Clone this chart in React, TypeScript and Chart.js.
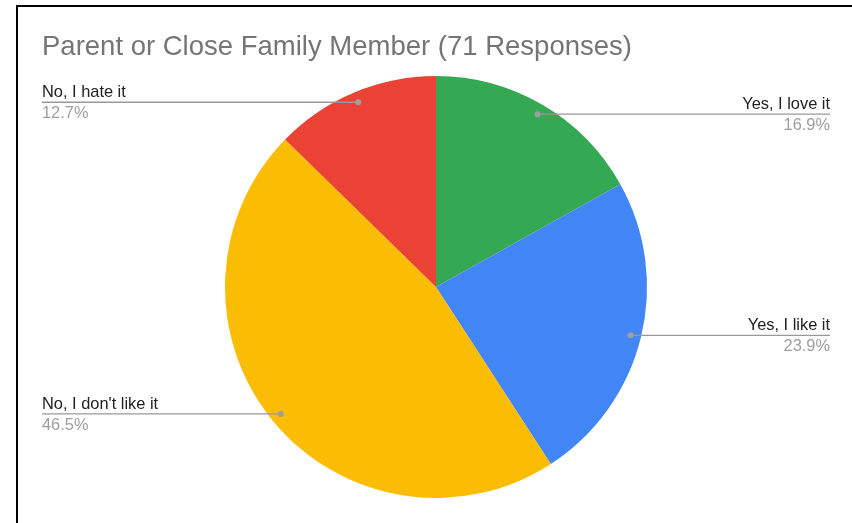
import React, { useEffect, useRef } from "react";
import { Chart, registerables } from "chart.js";

Chart.register(...registerables);

const TITLE = "Parent or Close Family Member (71 Responses)";
const categories = ["Yes, I love it", "Yes, I like it", "No, I don't like it", "No, I hate it"];
const counts = [12, 17, 33, 9];
const colors = ["#34A853", "#4285F4", "#FBBC04", "#EA4335"];

const labelPlugin = {
  id: "sideLabels",
  afterDraw(chart: any) {
    const ctx = chart.ctx as CanvasRenderingContext2D;
    const meta = chart.getDatasetMeta(0);
    const data = chart.data.datasets[0].data as number[];
    const total = data.reduce((a, b) => a + b, 0);
    ctx.save();
    // title
    ctx.font = "27.5px 'Liberation Sans', Arial, sans-serif";
    ctx.fillStyle = "#757575";
    ctx.textAlign = "left";
    ctx.textBaseline = "alphabetic";
    ctx.fillText(TITLE, 42, 55);

    const leftX = 42;
    const rightX = 830;
    meta.data.forEach((arc: any, i: number) => {
      const p = arc.getProps(["x", "y", "startAngle", "endAngle", "outerRadius"], true);
      const mid = (p.startAngle + p.endAngle) / 2;
      const r = p.outerRadius * 0.95;
      const dx = p.x + Math.cos(mid) * r;
      const dy = p.y + Math.sin(mid) * r;
      const right = Math.cos(mid) > 0;
      const edge = right ? rightX : leftX;
      ctx.strokeStyle = "#999999";
      ctx.lineWidth = 1.3;
      ctx.beginPath();
      ctx.moveTo(edge, dy);
      ctx.lineTo(dx, dy);
      ctx.stroke();
      ctx.fillStyle = "#9E9E9E";
      ctx.beginPath();
      ctx.arc(dx, dy, 3, 0, Math.PI * 2);
      ctx.fill();
      ctx.textAlign = right ? "right" : "left";
      ctx.font = "16.4px 'Liberation Sans', Arial, sans-serif";
      ctx.fillStyle = "#222222";
      ctx.fillText(chart.data.labels[i], edge, dy - 5);
      ctx.fillStyle = "#9E9E9E";
      ctx.fillText(((data[i] / total) * 100).toFixed(1) + "%", edge, dy + 16);
    });
    ctx.restore();
  },
};

export default function App() {
  const ref = useRef<HTMLCanvasElement | null>(null);
  useEffect(() => {
    if (!ref.current) return;
    const chart = new Chart(ref.current, {
      type: "pie",
      data: {
        labels: categories,
        datasets: [
          {
            data: counts,
            backgroundColor: colors,
            borderWidth: 0,
          },
        ],
      },
      options: {
        animation: false,
        responsive: false,
        maintainAspectRatio: false,
        layout: { padding: { top: 76, bottom: 25, left: 225, right: 205 } },
        plugins: {
          legend: { display: false },
          tooltip: { enabled: false },
          title: { display: false },
        },
      },
      plugins: [labelPlugin],
    });
    return () => chart.destroy();
  }, []);
  return (
    <div style={{ position: "absolute", left: 0, top: 0, width: 852, height: 523, background: "#fff", overflow: "hidden" }}>
      <div
        style={{
          position: "absolute",
          left: 16,
          top: 5,
          width: 852,
          height: 540,
          borderTop: "2px solid #000",
          borderLeft: "2px solid #000",
        }}
      />
      <canvas ref={ref} width={852} height={523} style={{ position: "absolute", left: 0, top: 0 }} />
    </div>
  );
}
